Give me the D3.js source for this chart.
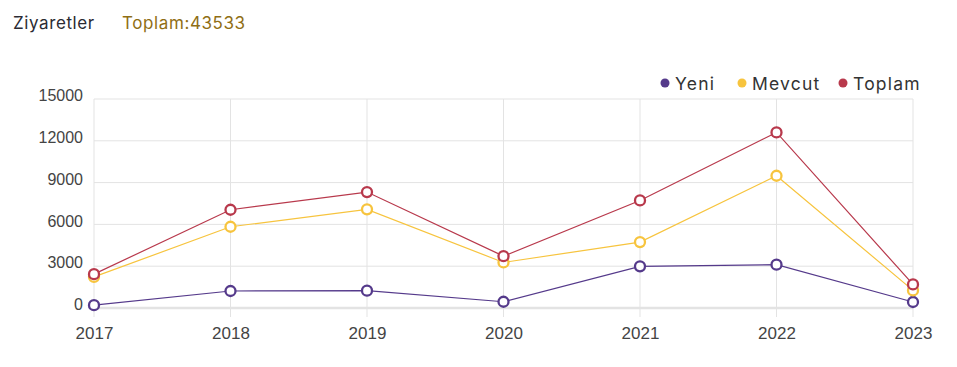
<!DOCTYPE html>
<html>
<head>
<meta charset="utf-8">
<script src="https://cdn.jsdelivr.net/npm/d3@7"></script>
<style>
  body { margin: 0; background: #fff; }
  svg { display: block; }
  .grid line { stroke: #e3e3e3; stroke-width: 1; }
  .axis text { font-family: "Liberation Sans", Arial, sans-serif; fill: #444; }
</style>
</head>
<body>
<div class="chart"></div>
<script>
const years = ["2017", "2018", "2019", "2020", "2021", "2022", "2023"];
const yeni = [200, 1220, 1240, 450, 2990, 3110, 430];
const mevcut = [2230, 5830, 7080, 3270, 4730, 9490, 1263];
const toplam = [2430, 7050, 8320, 3720, 7720, 12600, 1693];
const yTicks = [0, 3000, 6000, 9000, 12000, 15000];
const seriesNames = ["Yeni", "Mevcut", "Toplam"];
const seriesColors = ["#553a8b", "#f7c43e", "#b8394c"];

const width = 957, height = 367;
const margin = {left: 94, right: 44, top: 99, bottom: 59};
const headFont = "Inter, 'Noto Sans', sans-serif";

const svg = d3.select(".chart").append("svg")
  .attr("width", width)
  .attr("height", height);

// header
svg.append("text")
  .attr("x", 13).attr("y", 29)
  .style("font-family", headFont)
  .style("font-size", "17px")
  .style("letter-spacing", "0.6px")
  .attr("fill", "#2b2b33")
  .text("Ziyaretler");

svg.append("text")
  .attr("x", 122).attr("y", 29)
  .style("font-family", headFont)
  .style("font-size", "17px")
  .style("letter-spacing", "0.6px")
  .attr("fill", "#8f6e14")
  .text("Toplam:" + d3.sum(toplam));

const x = d3.scalePoint()
  .domain(years)
  .range([margin.left, width - margin.right]);

const y = d3.scaleLinear()
  .domain([0, 15000])
  .range([height - margin.bottom, margin.top]);

// grid
const grid = svg.append("g").attr("class", "grid");
grid.selectAll("line.h")
  .data(yTicks)
  .enter().append("line")
  .attr("class", "h")
  .attr("x1", margin.left).attr("x2", width - margin.right)
  .attr("y1", d => y(d)).attr("y2", d => y(d))
  .style("stroke-width", d => d == 0 ? 2.5 : 1);

grid.selectAll("line.v")
  .data(years)
  .enter().append("line")
  .attr("class", "v")
  .attr("x1", d => x(d)).attr("x2", d => x(d))
  .attr("y1", margin.top).attr("y2", height - margin.bottom + 9);

// axes
const yAxis = svg.append("g")
  .attr("class", "axis")
  .attr("transform", "translate(" + (margin.left - 11) + ",0)")
  .call(d3.axisLeft(y).tickValues(yTicks).tickFormat(d3.format("d")).tickSize(0).tickPadding(0));
yAxis.select(".domain").remove();
yAxis.selectAll("text").attr("dy", "0.1em").style("font-size", "16px");

const xAxis = svg.append("g")
  .attr("class", "axis")
  .attr("transform", "translate(0," + (height - margin.bottom) + ")")
  .call(d3.axisBottom(x).tickSize(0).tickPadding(19));
xAxis.select(".domain").remove();
xAxis.selectAll("text").style("font-size", "17px");

// lines + points
const allSeries = [yeni, mevcut, toplam];
const line = d3.line()
  .x((d, i) => x(years[i]))
  .y(d => y(d));

allSeries.forEach(function(vals, s){
  svg.append("path")
    .datum(vals)
    .attr("fill", "none")
    .attr("stroke", seriesColors[s])
    .attr("stroke-width", 1.2)
    .attr("d", line);

  svg.selectAll("circle.s" + s)
    .data(vals)
    .enter().append("circle")
    .attr("class", "s" + s)
    .attr("cx", (d, i) => x(years[i]))
    .attr("cy", d => y(d))
    .attr("r", 5)
    .attr("fill", "#fff")
    .attr("stroke", seriesColors[s])
    .attr("stroke-width", 2.3);
});

// legend
const legendX = [665, 742, 843];
const legend = svg.append("g");
seriesNames.forEach(function(name, i){
  legend.append("circle")
    .attr("cx", legendX[i]).attr("cy", 83)
    .attr("r", 4.5)
    .attr("fill", seriesColors[i]);
  legend.append("text")
    .attr("x", legendX[i] + 10).attr("y", 89.5)
    .style("font-family", headFont)
    .style("font-size", "17.5px")
    .style("letter-spacing", "1.2px")
    .attr("fill", "#333")
    .text(name);
});
</script>
</body>
</html>
